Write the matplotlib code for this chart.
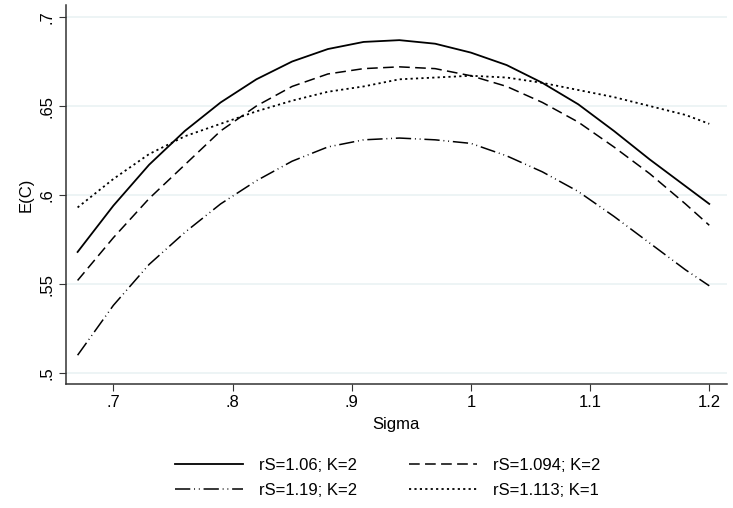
import matplotlib.pyplot as plt

plt.rcParams['font.family'] = ['Liberation Sans', 'DejaVu Sans']

# dados
sigma = [0.67, 0.70, 0.73, 0.76, 0.79, 0.82, 0.85, 0.88, 0.91, 0.94,
         0.97, 1.00, 1.03, 1.06, 1.09, 1.12, 1.15, 1.18, 1.20]
ec_106_k2 = [0.568, 0.594, 0.617, 0.636, 0.652, 0.665, 0.675, 0.682, 0.686, 0.687,
             0.685, 0.680, 0.673, 0.663, 0.651, 0.636, 0.620, 0.605, 0.595]
ec_1094_k2 = [0.552, 0.576, 0.598, 0.617, 0.636, 0.650, 0.661, 0.668, 0.671, 0.672,
              0.671, 0.667, 0.661, 0.652, 0.641, 0.627, 0.612, 0.595, 0.583]
ec_119_k2 = [0.510, 0.538, 0.561, 0.579, 0.595, 0.608, 0.619, 0.627, 0.631, 0.632,
             0.631, 0.629, 0.622, 0.613, 0.602, 0.588, 0.573, 0.558, 0.549]
ec_1113_k1 = [0.593, 0.609, 0.623, 0.633, 0.640, 0.647, 0.653, 0.658, 0.661, 0.665,
              0.666, 0.667, 0.666, 0.663, 0.659, 0.655, 0.650, 0.645, 0.640]

labels = ['rS=1.06; K=2', 'rS=1.094; K=2', 'rS=1.19; K=2', 'rS=1.113; K=1']
xticks = [0.7, 0.8, 0.9, 1.0, 1.1, 1.2]
xtick_labels = ['.7', '.8', '.9', '1', '1.1', '1.2']
yticks = [0.5, 0.55, 0.6, 0.65, 0.7]
ytick_labels = ['.5', '.55', '.6', '.65', '.7']

fig = plt.figure(figsize=(7.33, 5.08), dpi=100)
ax = fig.add_axes([0.0896, 0.244, 0.9024, 0.746])

l1, = ax.plot(sigma, ec_106_k2, color='black', linewidth=1.3, label=labels[0])
l2, = ax.plot(sigma, ec_1094_k2, color='black', linewidth=1.1, dashes=(7, 3.5), label=labels[1])
l3, = ax.plot(sigma, ec_119_k2, color='black', linewidth=1.1,
              dashes=(10, 2.5, 0.6, 2.5, 0.6, 2.5), label=labels[2])
l4, = ax.plot(sigma, ec_1113_k1, color='black', linewidth=1.3, dashes=(1.2, 1.8), label=labels[3])

ax.set_xlim(0.66, 1.215)
ax.set_ylim(0.4938, 0.7067)
ax.set_xticks(xticks)
ax.set_xticklabels(xtick_labels)
ax.set_yticks(yticks)
ax.set_yticklabels(ytick_labels, rotation=90, va='center')

ax.grid(True, axis='y', color='#eaf2f3', linewidth=1.2)
ax.set_axisbelow(True)
for s in ['top', 'right']:
    ax.spines[s].set_visible(False)
for s in ['left', 'bottom']:
    ax.spines[s].set_color('#333333')
    ax.spines[s].set_linewidth(1.1)
ax.tick_params(direction='out', length=5, color='#333333', labelsize=12, pad=3)

ax.set_xlabel('Sigma', fontsize=12, labelpad=5)
ax.set_ylabel('E(C)', fontsize=12, labelpad=4)

# ordem por linhas, como no original
ax.legend([l1, l3, l2, l4], [labels[0], labels[2], labels[1], labels[3]],
          loc='upper center', bbox_to_anchor=(0.487, -0.155), ncol=2, frameon=False,
          fontsize=12, handlelength=4.1, handletextpad=0.95, columnspacing=3.1,
          labelspacing=0.6)

plt.savefig('out.png', dpi=100)
